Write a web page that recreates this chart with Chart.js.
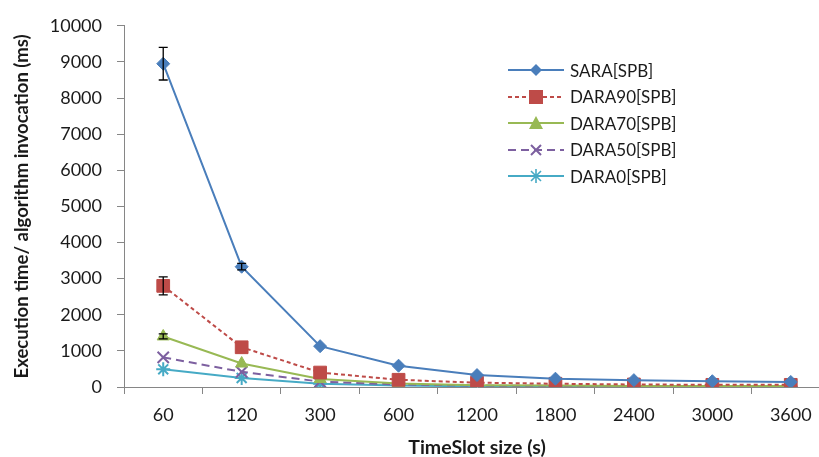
<!DOCTYPE html>
<html><head><meta charset="utf-8">
<script src="https://cdn.jsdelivr.net/npm/chart.js@4/dist/chart.umd.min.js"></script>
<style>
html,body{margin:0;padding:0;background:#fff;overflow:hidden;}
#wrap{position:relative;width:819px;height:457px;overflow:hidden;}
#legend{position:absolute;left:508px;top:57px;font-family:Lato,"Open Sans",sans-serif;font-size:17px;color:#1a1a1a;}
#legend div{height:26.5px;display:flex;align-items:center;}
#legend svg{margin-right:6px;}
</style></head>
<body>
<div id="wrap"><canvas id="c" width="840" height="457"></canvas><div id="legend"></div></div>
<script>
const categories = ["60","120","300","600","1200","1800","2400","3000","3600"];
const seriesNames = ["SARA[SPB]","DARA90[SPB]","DARA70[SPB]","DARA50[SPB]","DARA0[SPB]"];
const sara   = [8950, 3330, 1130, 590, 330, 230, 190, 160, 140];
const dara90 = [2800, 1100, 400, 200, 120, 90, 70, 60, 60];
const dara70 = [1400, 650, 220, 100, 50, 40, 30, 30, 30];
const dara50 = [820, 420, 150, 70, 40, 30, 25, 20, 20];
const dara0  = [490, 250, 90, 40, 20, 15, 10, 10, 10];
const saraErr   = [450, 90, 30, 20, 10, 10, 10, 10, 10];
const dara90Err = [250, 40, 20, 10, 10, 10, 10, 10, 10];
const dara70Err = [70, 30, 10, 10, 5, 5, 5, 5, 5];
const dara50Err = [40, 20, 10, 5, 5, 5, 5, 5, 5];
const dara0Err  = [30, 15, 10, 5, 5, 5, 5, 5, 5];
const yTicks = [0,1000,2000,3000,4000,5000,6000,7000,8000,9000,10000];

const colors = ["#4A7EBB","#BE4B48","#98B954","#7D60A0","#46AAC5"];
const styles = ["rectRot","rect","triangle","crossRot","star"];
const radii = [6.5,9,7,8,7];
const dashes = [[],[4,3],[],[8,5],[]];
const values = [sara,dara90,dara70,dara50,dara0];
const errs = [saraErr,dara90Err,dara70Err,dara50Err,dara0Err];

const errorBars = {
  id:'errorBars',
  afterDatasetsDraw(chart){
    const ctx = chart.ctx, y = chart.scales.y;
    ctx.save();
    ctx.strokeStyle = '#000'; ctx.lineWidth = 1.3;
    chart.data.datasets.forEach((ds,i)=>{
      const meta = chart.getDatasetMeta(i);
      meta.data.forEach((pt,j)=>{
        const e = errs[i][j]; if(!e) return;
        const v = ds.data[j];
        const yt = y.getPixelForValue(v+e), yb = y.getPixelForValue(Math.max(0,v-e));
        if (yb-yt < 3) return;
        ctx.beginPath();
        ctx.moveTo(pt.x,yt); ctx.lineTo(pt.x,yb);
        ctx.moveTo(pt.x-4.5,yt); ctx.lineTo(pt.x+4.5,yt);
        ctx.moveTo(pt.x-4.5,yb); ctx.lineTo(pt.x+4.5,yb);
        ctx.stroke();
      });
    });
    ctx.restore();
  }
};

const fam = 'Lato, "Open Sans", sans-serif';
const font = {family:fam, size:18};
const chart = new Chart(document.getElementById('c'),{
  type:'line',
  data:{labels:categories, datasets: seriesNames.map((n,i)=>({
    label:n, data:values[i], borderColor:colors[i], backgroundColor:colors[i],
    borderWidth:2, borderDash:dashes[i], pointStyle:styles[i], pointRadius:radii[i],
    pointBorderWidth: (styles[i]==='crossRot'||styles[i]==='star')?2:1,
    pointBorderColor:colors[i], pointBackgroundColor:colors[i], tension:0
  }))},
  options:{
    responsive:false, animation:false,
    layout:{padding:{left:0,right:9,top:12,bottom:0}},
    plugins:{legend:{display:false},tooltip:{enabled:false}},
    scales:{
      x:{
        offset:true,
        afterFit(s){s.height = 70;},
        grid:{drawOnChartArea:false,color:'#868686',tickLength:7,offset:true},
        border:{color:'#868686'},
        ticks:{color:'#1a1a1a',font:font,padding:10,maxRotation:0},
        title:{display:true,text:'TimeSlot size (s)',color:'#1a1a1a',font:{family:fam,size:19.5,weight:'bold',lineHeight:1},padding:{top:4,bottom:0}}
      },
      y:{
        min:0,max:10000,
        afterBuildTicks(s){s.ticks = yTicks.map(v=>({value:v}));},
        afterFit(s){s.width = 124;},
        grid:{drawOnChartArea:false,color:'#868686',tickLength:7},
        border:{color:'#868686'},
        ticks:{color:'#1a1a1a',font:font,padding:15,callback:v=>String(v)},
        title:{display:true,text:'Execution time/ algorithm invocation (ms)',color:'#1a1a1a',font:{family:fam,size:18.5,weight:'bold',lineHeight:1},padding:{top:12.5,bottom:4}}
      }
    }
  },
  plugins:[errorBars]
});
// align the plot area top with the reference (10000 at y=20)
for (let k=0;k<3;k++){
  const d = 20 - chart.chartArea.top;
  if (Math.abs(d) < 0.5) break;
  chart.options.layout.padding.top += d;
  chart.update('none');
}

// HTML legend
const leg = document.getElementById('legend');
seriesNames.forEach((n,i)=>{
  const c = colors[i];
  let marker='';
  if(styles[i]==='rectRot') marker=`<polygon points="28,4 34,10 28,16 22,10" fill="${c}"/>`;
  if(styles[i]==='rect') marker=`<rect x="21" y="3" width="14" height="14" fill="${c}"/>`;
  if(styles[i]==='triangle') marker=`<polygon points="28,3 35,16 21,16" fill="${c}"/>`;
  if(styles[i]==='crossRot') marker=`<path d="M23,5 L33,15 M33,5 L23,15" stroke="${c}" stroke-width="2"/>`;
  if(styles[i]==='star') marker=`<path d="M23,5 L33,15 M33,5 L23,15 M28,3 L28,17 M21,10 L35,10" stroke="${c}" stroke-width="1.6"/>`;
  const dash = dashes[i].length? `stroke-dasharray="${dashes[i].join(',')}"`:'';
  const d = document.createElement('div');
  d.innerHTML = `<svg width="56" height="20"><line x1="0" y1="10" x2="56" y2="10" stroke="${c}" stroke-width="2" ${dash}/>${marker}</svg><span>${n}</span>`;
  leg.appendChild(d);
});
</script>
</body></html>
